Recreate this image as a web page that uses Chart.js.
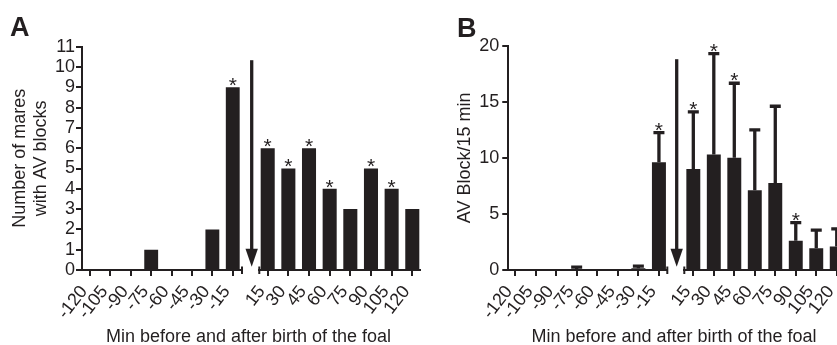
<!DOCTYPE html>
<html>
<head>
<meta charset="utf-8">
<script src="https://cdn.jsdelivr.net/npm/chart.js@4.4.0/dist/chart.umd.min.js"></script>
<style>
html, body { margin: 0; padding: 0; overflow: hidden; background: #fff; width: 837px; height: 345px; }
canvas { position: absolute; left: 0; top: 0; }
.lbl { position: absolute; color: #231f20; font-family: "Liberation Sans", Arial, sans-serif; white-space: nowrap; }
.panel { font-weight: bold; font-size: 27px; line-height: 27px; }
.xtitle { font-size: 18px; line-height: 18px; width: 400px; text-align: center; }
</style>
</head>
<body>
<canvas id="aLeft" width="900" height="345"></canvas>
<canvas id="aRight" width="900" height="345"></canvas>
<canvas id="bLeft" width="900" height="345"></canvas>
<canvas id="bRight" width="900" height="345"></canvas>
<div class="lbl panel" style="left:10px;top:13.8px">A</div>
<div class="lbl panel" style="left:457px;top:15.4px">B</div>
<div class="lbl xtitle" style="left:48.5px;top:327.3px">Min before and after birth of the foal</div>
<div class="lbl xtitle" style="left:474px;top:327.3px">Min before and after birth of the foal</div>
<script>
// data
const minBefore = [-120, -105, -90, -75, -60, -45, -30, -15];
const minAfter = [15, 30, 45, 60, 75, 90, 105, 120];

// panel A: number of mares with AV blocks
const maresBefore = [0, 0, 0, 1, 0, 0, 2, 9];
const maresAfter = [6, 5, 6, 4, 3, 5, 4, 3];
const maresSigBefore = [0, 0, 0, 0, 0, 0, 0, 1];
const maresSigAfter = [1, 1, 1, 1, 0, 1, 1, 0];

// panel B: AV blocks per 15 min, mean + upper error
const blockBefore = [0, 0, 0, 0.1, 0, 0, 0.15, 9.6];
const blockErrBefore = [0, 0, 0, 0.15, 0, 0, 0.2, 2.65];
const blockAfter = [9.0, 10.3, 10.0, 7.1, 7.75, 2.6, 1.95, 2.1];
const blockErrAfter = [5.1, 9.0, 6.65, 5.4, 6.85, 1.62, 1.61, 1.56];
const blockSigBefore = [0, 0, 0, 0, 0, 0, 0, 1];
const blockSigAfter = [1, 1, 1, 0, 0, 1, 0, 0];

const INK = '#231f20';
const FONT = "'Liberation Sans', Arial, sans-serif";
Chart.defaults.font.family = FONT;
Chart.defaults.color = INK;

// stars, error bars, axis break and the birth arrow
function marks(o) {
  return {
    id: 'marks',
    afterDatasetsDraw(chart) {
      const ctx = chart.ctx;
      const a = chart.chartArea;
      const y = chart.scales.y;
      const bars = chart.getDatasetMeta(0).data;
      ctx.save();
      ctx.strokeStyle = INK;
      ctx.fillStyle = INK;
      bars.forEach((bar, i) => {
        let top = bar.y;
        let base = 4.9;
        if (o.err && o.err[i] > 0) {
          const yt = y.getPixelForValue(o.y[i] + o.err[i]);
          ctx.lineWidth = 3.3;
          ctx.beginPath();
          ctx.moveTo(bar.x, bar.y);
          ctx.lineTo(bar.x, yt);
          ctx.moveTo(bar.x - 5.5, yt);
          ctx.lineTo(bar.x + 5.5, yt);
          ctx.stroke();
          top = yt;
          base = 4.2;
        }
        if (o.sig[i]) {
          ctx.font = '21px ' + FONT;
          ctx.textAlign = 'center';
          ctx.textBaseline = 'alphabetic';
          ctx.fillText('*', bar.x, top + base);
        }
      });
      ctx.lineWidth = 2;
      const bx = o.showY ? a.right : a.left;
      ctx.beginPath();
      ctx.moveTo(bx, a.bottom - 3.5);
      ctx.lineTo(bx, a.bottom + 4);
      ctx.stroke();
      if (!o.showY) {
        const ax = a.left - 7.6, t = a.top + 13.5, tip = a.bottom - 3.3;
        ctx.lineWidth = 3.3;
        ctx.beginPath();
        ctx.moveTo(ax, t);
        ctx.lineTo(ax, tip - 16);
        ctx.stroke();
        ctx.beginPath();
        ctx.moveTo(ax - 6.2, tip - 18);
        ctx.lineTo(ax + 6.2, tip - 18);
        ctx.lineTo(ax, tip);
        ctx.closePath();
        ctx.fill();
      }
      ctx.restore();
    }
  };
}

function halfChart(id, o) {
  return new Chart(document.getElementById(id), {
    type: 'bar',
    data: {
      datasets: [{
        data: o.x.map((v, i) => ({ x: v, y: o.y[i] })),
        backgroundColor: INK,
        borderWidth: 0,
        barPercentage: 0.68,
        categoryPercentage: 1
      }]
    },
    options: {
      responsive: false,
      animation: false,
      layout: { padding: o.pad },
      plugins: { legend: { display: false }, tooltip: { enabled: false } },
      scales: {
        x: {
          type: 'linear',
          min: o.xmin,
          max: o.xmax,
          offset: false,
          afterBuildTicks: s => { s.ticks = o.x.map(v => ({ value: v })); },
          afterFit: s => { s.height = 60; },
          ticks: {
            autoSkip: false,
            minRotation: 52,
            maxRotation: 52,
            padding: 5.6,
            labelOffset: -5.9,
            font: { size: 18 },
            callback: v => String(v)
          },
          grid: { offset: false, drawOnChartArea: false, drawTicks: true, tickLength: 6, color: INK, lineWidth: 2 },
          border: { display: true, color: INK, width: 2 }
        },
        y: {
          display: o.showY,
          min: 0,
          max: o.ymax,
          afterFit: s => { s.width = o.showY ? o.yWidth : 0; },
          ticks: { stepSize: o.ystep, maxTicksLimit: 20, autoSkip: false, padding: o.tickPad, font: { size: 18 } },
          title: { display: true, text: o.ytitle, font: { size: 18 }, padding: { top: o.titlePad, bottom: 0 } },
          grid: { drawOnChartArea: false, drawTicks: true, tickLength: 6, color: INK, lineWidth: 2 },
          border: { display: true, color: INK, width: 2 }
        }
      }
    },
    plugins: [marks(o)]
  });
}

// panel A
halfChart('aLeft', {
  x: minBefore, y: maresBefore, sig: maresSigBefore, showY: true,
  xmin: -125.9, xmax: -8.2, ymax: 11, ystep: 1, yWidth: 78, tickPad: 1, titlePad: 5,
  ytitle: ['Number of mares', 'with AV blocks'],
  pad: { left: 4, right: 658, top: 46.7, bottom: 15 }
});
halfChart('aRight', {
  x: minAfter, y: maresAfter, sig: maresSigAfter, showY: false,
  xmin: 8.9, xmax: 125.6, ymax: 11, ystep: 1, ytitle: '',
  pad: { left: 259.3, right: 480, top: 46.7, bottom: 15 }
});

// panel B
halfChart('bLeft', {
  x: minBefore, y: blockBefore, err: blockErrBefore, sig: blockSigBefore, showY: true,
  xmin: -124.9, xmax: -8.9, ymax: 20, ystep: 5, yWidth: 58.5, tickPad: 3, titlePad: 4,
  ytitle: 'AV Block/15 min',
  pad: { left: 449.75, right: 232.7, top: 45.7, bottom: 15 }
});
halfChart('bRight', {
  x: minAfter, y: blockAfter, err: blockErrAfter, sig: blockSigAfter, showY: false,
  xmin: 8.4, xmax: 129.7, ymax: 20, ystep: 5, ytitle: '',
  pad: { left: 684.3, right: 50, top: 45.7, bottom: 15 }
});
</script>
</body>
</html>
